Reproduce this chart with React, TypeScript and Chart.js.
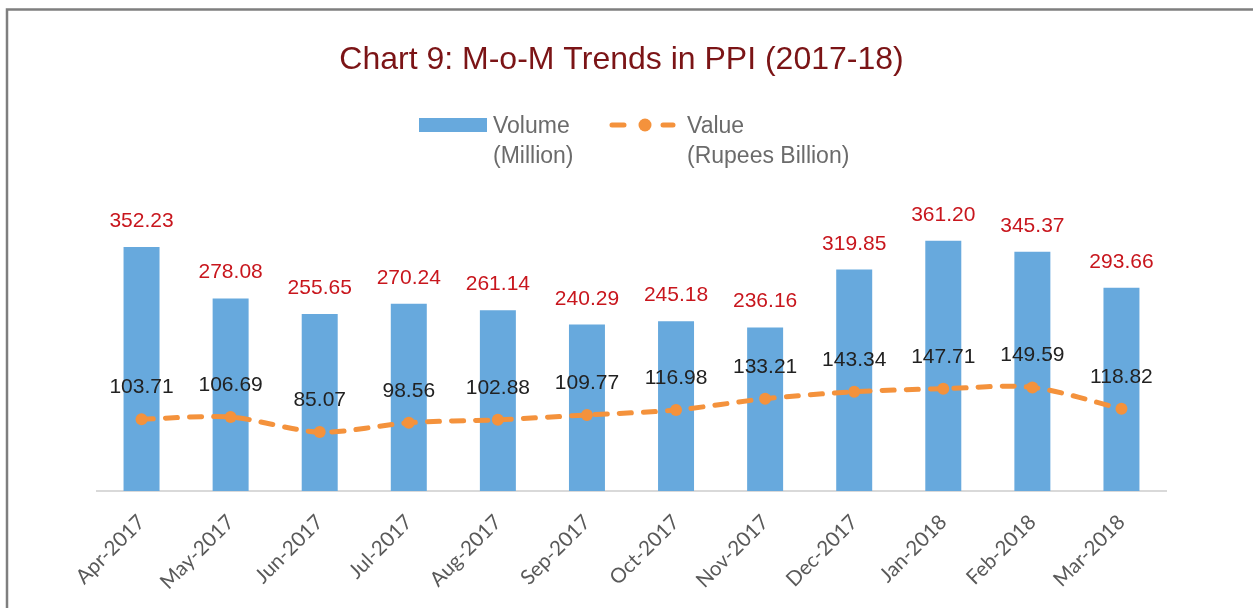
import React, { useEffect, useRef } from "react";
import { Chart, registerables } from "chart.js";

Chart.register(...registerables);

const categories = [
  "Apr-2017", "May-2017", "Jun-2017", "Jul-2017", "Aug-2017", "Sep-2017",
  "Oct-2017", "Nov-2017", "Dec-2017", "Jan-2018", "Feb-2018", "Mar-2018",
];
const volumeMillion = [352.23, 278.08, 255.65, 270.24, 261.14, 240.29, 245.18, 236.16, 319.85, 361.2, 345.37, 293.66];
const valueRupeesBillion = [103.71, 106.69, 85.07, 98.56, 102.88, 109.77, 116.98, 133.21, 143.34, 147.71, 149.59, 118.82];
const volumeLabel = ["Volume", "(Million)"];
const valueLabel = ["Value", "(Rupees Billion)"];
const titleText = "Chart 9: M-o-M Trends in PPI (2017-18)";

const BLUE = "#67a9dd";
const ORANGE = "#f4923c";
const LABEL_FONT = "21px 'Liberation Sans', Arial, sans-serif";

const decorPlugin = {
  id: "decor",
  beforeDraw(chart: any) {
    const ctx = chart.ctx;
    ctx.save();
    ctx.fillStyle = "#ffffff";
    ctx.fillRect(0, 0, chart.width, chart.height);
    ctx.strokeStyle = "#7f7f7f";
    ctx.lineWidth = 2.5;
    ctx.strokeRect(7, 9.5, chart.width + 50, chart.height + 50);
    // title
    ctx.fillStyle = "#7b1416";
    ctx.font = "32px 'Liberation Sans', Arial, sans-serif";
    ctx.textAlign = "center";
    ctx.textBaseline = "alphabetic";
    ctx.fillText(titleText, chart.width / 2 - 5, 69);
    // legend
    ctx.font = "23px 'Liberation Sans', Arial, sans-serif";
    ctx.textAlign = "left";
    const x0 = 419;
    ctx.fillStyle = BLUE;
    ctx.fillRect(x0, 118, 68, 14);
    ctx.fillStyle = "#6b6b6b";
    volumeLabel.forEach((t, i) => ctx.fillText(t, x0 + 74, 133 + i * 30));
    const x1 = 610;
    ctx.strokeStyle = ORANGE;
    ctx.lineWidth = 5;
    ctx.lineCap = "round";
    ctx.beginPath();
    ctx.moveTo(x1 + 2, 125);
    ctx.lineTo(x1 + 14, 125);
    ctx.moveTo(x1 + 53, 125);
    ctx.lineTo(x1 + 63, 125);
    ctx.stroke();
    ctx.fillStyle = ORANGE;
    ctx.beginPath();
    ctx.arc(x1 + 35, 125, 6.5, 0, Math.PI * 2);
    ctx.fill();
    ctx.fillStyle = "#6b6b6b";
    valueLabel.forEach((t, i) => ctx.fillText(t, x1 + 77, 133 + i * 30));
    ctx.restore();
  },
  afterDatasetsDraw(chart: any) {
    const ctx = chart.ctx;
    ctx.save();
    ctx.font = LABEL_FONT;
    ctx.textAlign = "center";
    ctx.textBaseline = "alphabetic";
    const barMeta = chart.getDatasetMeta(1);
    ctx.fillStyle = "#c8161d";
    barMeta.data.forEach((el: any, i: number) => {
      ctx.fillText(volumeMillion[i].toFixed(2), el.x, el.y - 20);
    });
    const lineMeta = chart.getDatasetMeta(0);
    ctx.fillStyle = "#222222";
    lineMeta.data.forEach((el: any, i: number) => {
      ctx.fillText(valueRupeesBillion[i].toFixed(2), el.x, el.y - 26);
    });
    ctx.restore();
  },
};

export default function App() {
  const ref = useRef<HTMLCanvasElement | null>(null);
  useEffect(() => {
    if (!ref.current) return;
    const chart = new Chart(ref.current, {
      type: "bar",
      data: {
        labels: categories,
        datasets: [
          {
            type: "line",
            label: valueLabel.join(" "),
            data: valueRupeesBillion,
            borderColor: ORANGE,
            backgroundColor: ORANGE,
            borderWidth: 5,
            borderDash: [12, 12],
            borderCapStyle: "round",
            pointRadius: 6,
            pointHoverRadius: 6,
            pointBackgroundColor: ORANGE,
            pointBorderWidth: 0,
            tension: 0.3,
            order: 1,
          } as any,
          {
            type: "bar",
            label: volumeLabel.join(" "),
            data: volumeMillion,
            backgroundColor: BLUE,
            borderWidth: 0,
            barPercentage: 0.404,
            categoryPercentage: 1,
            order: 2,
          } as any,
        ],
      },
      options: {
        responsive: false,
        animation: false,
        layout: { padding: { left: 97, right: 87, top: 214, bottom: 0 } },
        plugins: {
          legend: { display: false },
          title: { display: false },
          tooltip: { enabled: false },
        },
        scales: {
          x: {
            grid: { display: false, drawTicks: false },
            border: { color: "#d9d9d9", width: 2 },
            ticks: {
              color: "#595959",
              font: { family: "Lato, 'Open Sans', sans-serif", size: 20.5 },
              minRotation: 45,
              maxRotation: 45,
              padding: 19,
            },
            afterFit(scale: any) {
              scale.height = 117;
            },
          },
          y: {
            display: false,
            min: 0,
            max: 400,
          },
        },
      },
      plugins: [decorPlugin],
    });
    return () => chart.destroy();
  }, []);
  return (
    <div style={{ position: "fixed", left: 0, top: 0, width: 1253, height: 608, overflow: "hidden", background: "#fff" }}>
      <canvas ref={ref} width={1253} height={608} style={{ display: "block" }} />
    </div>
  );
}
